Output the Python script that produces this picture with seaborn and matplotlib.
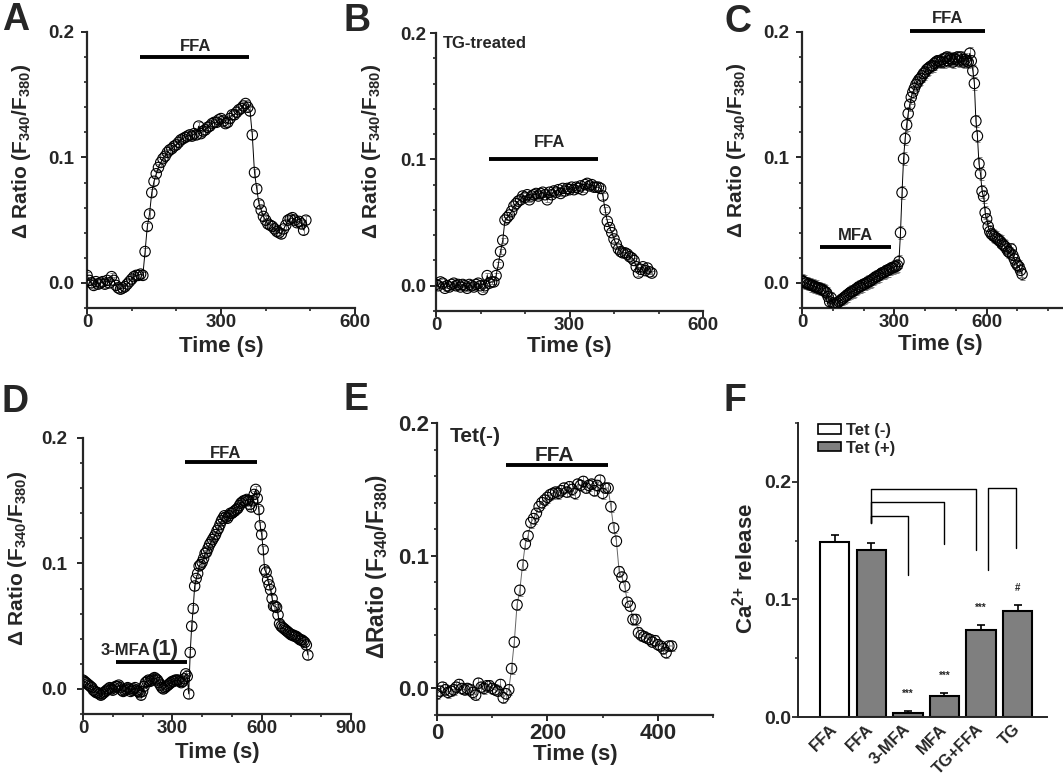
import numpy as np
import pandas as pd
import seaborn as sns
import matplotlib.pyplot as plt
from matplotlib.ticker import MultipleLocator, FormatStrFormatter
from matplotlib.patches import Patch

sns.set_style("ticks")
plt.rcParams["font.family"] = ["Liberation Sans", "DejaVu Sans"]
plt.rcParams["font.weight"] = "bold"
plt.rcParams["axes.labelweight"] = "bold"
plt.rcParams["mathtext.fontset"] = "custom"
plt.rcParams["mathtext.rm"] = "Liberation Sans:bold"
plt.rcParams["mathtext.bf"] = "Liberation Sans:bold"
plt.rcParams["mathtext.it"] = "Liberation Sans:bold"
plt.rcParams["mathtext.default"] = "rm"

# dados: delta ratio a cada 5 s
passo = 5

ratio_a = [0.006, 0.002, 0.000, -0.002, 0.001, -0.001, 0.000, 0.001, -0.001, 0.002,
           0.000, 0.005, 0.002, -0.002, -0.004, -0.005, -0.004, -0.003, -0.001, 0.001,
           0.003, 0.005, 0.006, 0.006, 0.007, 0.006, 0.025, 0.045, 0.055, 0.072,
           0.081, 0.087, 0.092, 0.096, 0.099, 0.101, 0.104, 0.106, 0.107, 0.109,
           0.110, 0.112, 0.114, 0.115, 0.116, 0.117, 0.118, 0.117, 0.119, 0.118,
           0.125, 0.119, 0.121, 0.122, 0.124, 0.125, 0.127, 0.128, 0.128, 0.130,
           0.131, 0.129, 0.127, 0.128, 0.131, 0.134, 0.134, 0.136, 0.138, 0.139,
           0.141, 0.143, 0.140, 0.137, 0.118, 0.088, 0.075, 0.063, 0.058, 0.053,
           0.050, 0.047, 0.046, 0.045, 0.043, 0.041, 0.040, 0.039, 0.043, 0.046,
           0.050, 0.051, 0.052, 0.050, 0.048, 0.049, 0.047, 0.042, 0.050]

ratio_b = [0.001, 0.000, 0.003, 0.002, -0.002, 0.000, -0.001, 0.001, 0.002, 0.000,
           0.001, -0.001, 0.001, 0.000, -0.002, 0.001, 0.000, -0.001, 0.001, 0.002,
           0.000, -0.003, 0.000, 0.008, 0.002, 0.003, 0.003, 0.008, 0.017, 0.027,
           0.036, 0.052, 0.054, 0.056, 0.059, 0.063, 0.065, 0.067, 0.068, 0.071,
           0.070, 0.072, 0.068, 0.071, 0.072, 0.073, 0.071, 0.073, 0.074, 0.072,
           0.068, 0.074, 0.072, 0.075, 0.074, 0.076, 0.073, 0.077, 0.075, 0.077,
           0.076, 0.078, 0.076, 0.078, 0.077, 0.079, 0.076, 0.080, 0.081, 0.079,
           0.080, 0.078, 0.078, 0.078, 0.077, 0.071, 0.060, 0.051, 0.046, 0.042,
           0.037, 0.033, 0.029, 0.027, 0.026, 0.026, 0.025, 0.023, 0.022, 0.020,
           0.015, 0.010, 0.013, 0.015, 0.012, 0.014, 0.011, 0.010]

ratio_c = [0.002, 0.001, 0.000, 0.000, -0.001, -0.001, -0.002, -0.002, -0.003, -0.003,
           -0.004, -0.004, -0.005, -0.005, -0.006, -0.007, -0.008, -0.011, -0.015, -0.012,
           -0.016, -0.017, -0.017, -0.016, -0.015, -0.014, -0.013, -0.012, -0.011, -0.010,
           -0.009, -0.008, -0.007, -0.007, -0.006, -0.005, -0.004, -0.003, -0.003, -0.002,
           -0.001, -0.001, 0.000, 0.001, 0.001, 0.002, 0.003, 0.004, 0.005, 0.005,
           0.006, 0.007, 0.008, 0.008, 0.009, 0.010, 0.010, 0.011, 0.012, 0.012,
           0.013, 0.013, 0.014, 0.017, 0.040, 0.072, 0.099, 0.115, 0.126, 0.135,
           0.142, 0.148, 0.152, 0.155, 0.158, 0.160, 0.162, 0.163, 0.165, 0.167,
           0.168, 0.170, 0.171, 0.172, 0.173, 0.173, 0.175, 0.176, 0.177, 0.177,
           0.176, 0.178, 0.176, 0.179, 0.180, 0.177, 0.179, 0.178, 0.176, 0.179,
           0.178, 0.180, 0.177, 0.180, 0.178, 0.176, 0.178, 0.177, 0.176, 0.183,
           0.177, 0.169, 0.159, 0.129, 0.117, 0.095, 0.087, 0.073, 0.069, 0.056,
           0.051, 0.045, 0.041, 0.039, 0.038, 0.037, 0.036, 0.035, 0.034, 0.033,
           0.031, 0.030, 0.029, 0.027, 0.025, 0.024, 0.027, 0.022, 0.019, 0.016,
           0.014, 0.013, 0.010, 0.007]

ratio_d = [0.007, 0.006, 0.005, 0.004, 0.003, 0.002, 0.001, -0.001, -0.002, -0.003,
           -0.003, -0.004, -0.005, -0.004, -0.003, -0.002, -0.001, 0.000, 0.001, 0.000,
           -0.001, 0.001, 0.002, 0.002, 0.003, 0.001, -0.001, -0.002, -0.001, 0.000,
           0.001, 0.000, -0.002, -0.001, 0.000, 0.001, -0.001, -0.002, -0.003, -0.005,
           -0.002, 0.002, 0.005, 0.006, 0.007, 0.006, 0.007, 0.008, 0.009, 0.008,
           0.007, 0.005, 0.003, 0.001, 0.000, 0.001, 0.002, 0.003, 0.004, 0.005,
           0.006, 0.006, 0.007, 0.007, 0.007, 0.006, 0.005, 0.006, 0.008, 0.012,
           0.010, -0.004, 0.029, 0.050, 0.064, 0.082, 0.088, 0.092, 0.098, 0.099,
           0.101, 0.104, 0.108, 0.109, 0.112, 0.115, 0.117, 0.119, 0.121, 0.123,
           0.126, 0.128, 0.131, 0.134, 0.136, 0.138, 0.137, 0.136, 0.138, 0.140,
           0.140, 0.141, 0.142, 0.143, 0.144, 0.146, 0.148, 0.149, 0.150, 0.150,
           0.151, 0.150, 0.147, 0.145, 0.150, 0.155, 0.159, 0.152, 0.143, 0.130,
           0.123, 0.111, 0.095, 0.093, 0.087, 0.083, 0.079, 0.072, 0.066, 0.066,
           0.065, 0.059, 0.052, 0.050, 0.049, 0.048, 0.047, 0.046, 0.045, 0.044,
           0.043, 0.043, 0.042, 0.042, 0.041, 0.040, 0.039, 0.039, 0.038, 0.037,
           0.035, 0.027]

ratio_e = [-0.004, -0.002, 0.001, -0.001, -0.003, -0.002, -0.001, 0.001, 0.003, 0.000,
           -0.001, 0.000, -0.001, -0.003, -0.005, 0.004, 0.001, 0.000, 0.002, 0.002,
           0.000, -0.001, -0.002, 0.003, -0.007, -0.004, -0.001, 0.015, 0.035, 0.063,
           0.074, 0.093, 0.109, 0.115, 0.125, 0.128, 0.132, 0.137, 0.140, 0.142,
           0.144, 0.146, 0.147, 0.148, 0.147, 0.149, 0.151, 0.148, 0.152, 0.150,
           0.147, 0.154, 0.153, 0.156, 0.151, 0.153, 0.154, 0.149, 0.153, 0.157,
           0.147, 0.151, 0.151, 0.137, 0.121, 0.111, 0.088, 0.084, 0.077, 0.065,
           0.062, 0.052, 0.052, 0.042, 0.040, 0.039, 0.038, 0.037, 0.035, 0.036,
           0.033, 0.032, 0.030, 0.027, 0.032, 0.032]

# erro padrao tipico de cada curva
sem_a, sem_b, sem_c, sem_d, sem_e = 0.003, 0.002, 0.005, 0.003, 0.004

# painel F
condicoes = ["FFA", "FFA", "3-MFA", "MFA", "TG+FFA", "TG"]
grupos = ["Tet (-)", "Tet (+)", "Tet (+)", "Tet (+)", "Tet (+)", "Tet (+)"]
liberacao = [0.149, 0.142, 0.003, 0.018, 0.074, 0.090]
erro_f = [0.006, 0.006, 0.002, 0.002, 0.004, 0.005]
sinais = ["", "", "***", "***", "***", "#"]
# colchetes: x inicial, x final, altura, ponta esquerda, ponta direita
braco_x0 = [1, 1, 1, 4.2]
braco_x1 = [2, 3, 3.85, 4.95]
braco_y = [0.171, 0.183, 0.194, 0.195]
braco_ye = [0.165, 0.165, 0.165, 0.125]
braco_yd = [0.121, 0.147, 0.142, 0.144]

W, H = 1063, 774
fig = plt.figure(figsize=(W / 100, H / 100), dpi=100)


def caixa(esq, topo, larg, alt):  # posicao em pixels -> fracao da figura
    return fig.add_axes([esq / W, 1 - (topo + alt) / H, larg / W, alt / H])


def curva(ax, ratio, sem, cor="black"):
    df = pd.DataFrame({"t": np.arange(len(ratio)) * passo, "r": ratio})
    ax.errorbar(df["t"], df["r"], yerr=sem, fmt="none", ecolor="0.45",
                elinewidth=0.6, capsize=1.8, capthick=0.6, zorder=1)
    sns.lineplot(data=df, x="t", y="r", ax=ax, color=cor, linewidth=0.7, zorder=2)
    sns.scatterplot(data=df, x="t", y="r", ax=ax, s=56, facecolor="none",
                    edgecolor="black", linewidth=0.8, zorder=3)


def eixos(ax, xmax, xmaj, fs=13.5, ypad=5, xpad=0):
    ax.set_xlim(0, xmax)
    ax.set_ylim(-0.02, 0.2)
    ax.xaxis.set_major_locator(MultipleLocator(xmaj))
    ax.xaxis.set_minor_locator(MultipleLocator(100))
    ax.yaxis.set_major_locator(MultipleLocator(0.1))
    ax.yaxis.set_minor_locator(MultipleLocator(0.02))
    ax.yaxis.set_major_formatter(FormatStrFormatter("%.1f"))
    sns.despine(ax=ax)
    for s in ["left", "bottom"]:
        ax.spines[s].set_linewidth(1.6)
    ax.tick_params(which="major", direction="out", length=4, width=1.4, labelsize=fs)
    ax.tick_params(which="minor", direction="out", length=2.5, width=1.2)
    ax.tick_params(axis="y", which="major", pad=ypad)
    ax.tick_params(axis="x", which="major", pad=xpad)


def rotulos(ax, ylab, yx, yy, xy, fs_x=16, fs_y=15):
    ax.set_xlabel("Time (s)", fontsize=fs_x, va="top")
    ax.xaxis.set_label_coords(0.5, xy)
    ax.set_ylabel(ylab, fontsize=fs_y)
    ax.yaxis.label.set_va("center")
    ax.yaxis.set_label_coords(yx, yy)


def barra(ax, x0, x1, y):  # barra de aplicacao da droga
    ax.plot([x0, x1], [y, y], color="black", lw=2.8, solid_capstyle="butt", clip_on=False)


ylab = "Δ Ratio (F$_{340}$/F$_{380}$)"

# A
ax = caixa(87, 32, 268, 276)
curva(ax, ratio_a, sem_a)
eixos(ax, 600, 300)
rotulos(ax, ylab, -0.243, 0.569, -0.1)
barra(ax, 118, 362, 0.180)
ax.text(243, 0.1845, "FFA", ha="center", va="baseline", fontsize=12)

# B
ax = caixa(436, 33, 267, 278)
curva(ax, ratio_b, sem_b)
eixos(ax, 600, 300, ypad=3)
rotulos(ax, ylab, -0.243, 0.576, -0.09)
barra(ax, 118, 364, 0.100)
ax.text(256, 0.1095, "FFA", ha="center", va="baseline", fontsize=12)
ax.text(15, 0.188, "TG-treated", ha="left", va="baseline", fontsize=12)

# C
ax = caixa(802, 32, 277, 276)
curva(ax, ratio_c, sem_c)
eixos(ax, 900, 300)
rotulos(ax, ylab, -0.235, 0.572, -0.095)
barra(ax, 350, 596, 0.2008)
ax.text(474, 0.2075, "FFA", ha="center", va="baseline", fontsize=12, clip_on=False)
barra(ax, 57, 289, 0.0288)
ax.text(173, 0.0341, "MFA", ha="center", va="baseline", fontsize=12)

# D
ax = caixa(83, 438, 268, 276)
curva(ax, ratio_d, sem_d)
eixos(ax, 900, 300, ypad=7)
rotulos(ax, ylab, -0.243, 0.565, -0.1)
barra(ax, 344, 584, 0.181)
ax.text(478, 0.1838, "FFA", ha="center", va="baseline", fontsize=12)
barra(ax, 112, 348, 0.0213)
ax.text(226, 0.027, "3-MFA", ha="right", va="baseline", fontsize=12)
ax.text(231, 0.027, "(1)", ha="left", va="baseline", fontsize=16)

# E
ax = caixa(437, 423, 276, 292)
curva(ax, ratio_e, sem_e, cor="0.4")
eixos(ax, 500, 200, fs=16, ypad=1.5, xpad=1.5)
rotulos(ax, r"ΔRatio $\left(F_{340}/F_{380}\right)$", -0.217, 0.51, -0.1, fs_x=16, fs_y=16.5)
barra(ax, 125, 309, 0.168)
ax.text(213, 0.1715, "FFA", ha="center", va="baseline", fontsize=15)
ax.text(23, 0.186, "Tet(-)", ha="left", va="baseline", fontsize=15)

# F
ax = caixa(798, 423, 249, 294)
df_f = pd.DataFrame({"pos": range(len(condicoes)), "grupo": grupos, "valor": liberacao})
sns.barplot(data=df_f, x="pos", y="valor", hue="grupo", dodge=False, legend=False,
            palette={"Tet (-)": "white", "Tet (+)": "#7f7f7f"}, width=0.8,
            edgecolor="black", linewidth=1.5, errorbar=None, ax=ax)
ax.errorbar(range(len(condicoes)), liberacao, yerr=[[0] * len(erro_f), erro_f],
            fmt="none", ecolor="black", elinewidth=1.2, capsize=3, capthick=1.2)
for i, s in enumerate(sinais):
    if s:
        ax.text(i, liberacao[i] + erro_f[i] + 0.015, s, ha="center", va="center", fontsize=7)
for x0, x1, y, ye, yd in zip(braco_x0, braco_x1, braco_y, braco_ye, braco_yd):
    ax.plot([x0, x0, x1, x1], [ye, y, y, yd], color="black", lw=1.0)
ax.set_xlim(-1.0, 5.8)
ax.set_ylim(0, 0.25)
ax.set_xticks(range(len(condicoes)))
ax.set_xticklabels(condicoes, rotation=45, ha="right", va="center", rotation_mode="anchor", fontsize=12)
ax.yaxis.set_major_locator(MultipleLocator(0.1))
ax.yaxis.set_minor_locator(MultipleLocator(0.05))
ax.yaxis.set_major_formatter(FormatStrFormatter("%.1f"))
sns.despine(ax=ax)
for s in ["left", "bottom"]:
    ax.spines[s].set_linewidth(1.4)
ax.tick_params(axis="y", which="major", direction="out", length=4, width=1.3, labelsize=14, pad=1)
ax.tick_params(axis="y", which="minor", direction="out", length=2.5, width=1.1)
ax.tick_params(axis="x", length=0, pad=7)
ax.set_xlabel("")
ax.set_ylabel("Ca$^{2{+}}$ release", fontsize=16)
ax.yaxis.label.set_va("center")
ax.yaxis.set_label_coords(-0.213, 0.507)
alcas = [Patch(facecolor="white", edgecolor="black", linewidth=1.2, label="Tet (-)"),
         Patch(facecolor="#7f7f7f", edgecolor="black", linewidth=1.2, label="Tet (+)")]
ax.legend(handles=alcas, loc="upper left", bbox_to_anchor=(0.08, 1.0), frameon=False,
          fontsize=12, handlelength=1.4, handleheight=0.5, handletextpad=0.3,
          labelspacing=0.15, borderpad=0, borderaxespad=0)

# letras dos paineis
for letra, x, y in [("A", 2, 30), ("B", 343, 31), ("C", 724, 32),
                    ("D", 2, 412), ("E", 343, 410), ("F", 724, 411)]:
    fig.text(x / W, 1 - y / H, letra, fontsize=27, fontweight="bold", ha="left", va="baseline")

fig.savefig("out.png", dpi=100)
